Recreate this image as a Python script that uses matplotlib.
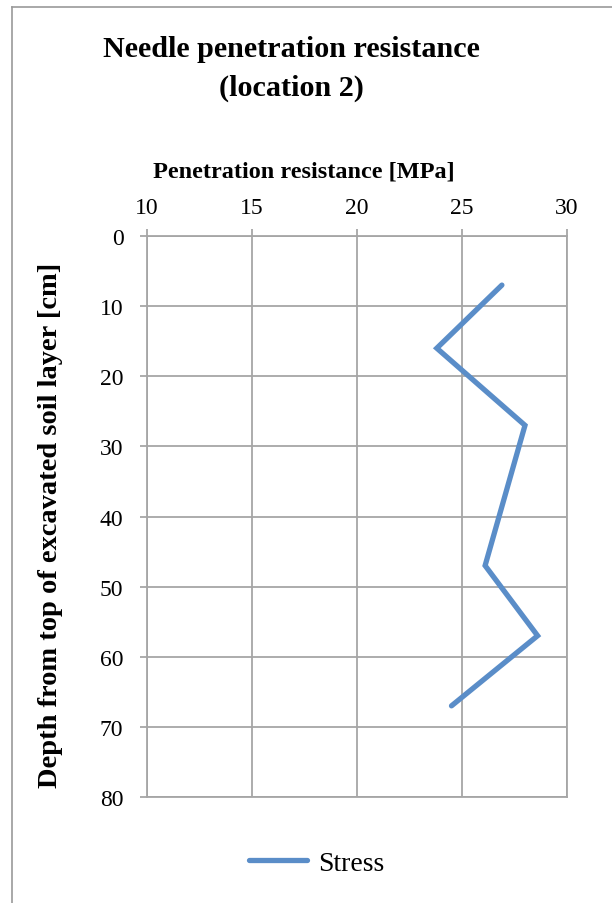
import numpy as np
import matplotlib
matplotlib.use("Agg")
from matplotlib import pyplot as plt
from matplotlib.lines import Line2D

# data
resistance = [26.9, 23.8, 28.0, 26.1, 28.6, 24.5]   # MPa
depth = [7, 16, 27, 47, 57, 67]                     # cm
x_ticks = [10, 15, 20, 25, 30]
y_ticks = [0, 10, 20, 30, 40, 50, 60, 70, 80]

plt.rcParams['font.family'] = ['Liberation Serif', 'DejaVu Serif']

W, H = 612, 904
fig = plt.figure(figsize=(6.12, 9.04), dpi=100)
ax = fig.add_axes([147/W, 1-798/H, 420/W, 561/H])

grid_col = '#a6a6a6'
ax.plot(resistance, depth, color='#5A8DC8', lw=3.8, solid_capstyle='round',
        solid_joinstyle='miter', label='Stress', zorder=3)

ax.set_xlim(10, 30)
ax.set_ylim(80, 0)
ax.set_xticks(x_ticks)
ax.set_yticks(y_ticks)
ax.xaxis.tick_top()
ax.grid(True, color=grid_col, lw=1.3)
for s in ax.spines.values():
    s.set_color(grid_col)
    s.set_linewidth(1.3)
ax.tick_params(axis='both', direction='out', length=5, width=1.3, color=grid_col,
               labelsize=17)
ax.tick_params(axis='x', pad=8)
ax.tick_params(axis='y', pad=12)

# axis titles placed like the Excel chart
fig.text(304/W, 1-172/H, 'Penetration resistance [MPa]', ha='center', va='center',
         fontsize=17.5, fontweight='bold')
fig.text(51/W, 1-525/H, 'Depth from top of excavated soil layer [cm]', ha='center',
         va='center', rotation=90, fontsize=20.5, fontweight='bold')

fig.text(291/W, 1-69/H, 'Needle penetration resistance\n(location 2)',
         ha='center', va='center', fontsize=21.7, fontweight='bold', linespacing=1.6)

fig.legend(loc='center', bbox_to_anchor=(317/W, 1-864/H), frameon=False,
           fontsize=20, handlelength=2.1, handletextpad=0.4)

# chart border (left and top)
fig.add_artist(Line2D([12/W, 12/W], [0, 1-8/H], color='#9a9a9a', lw=1.2,
                      transform=fig.transFigure))
fig.add_artist(Line2D([12/W, 1], [1-8/H, 1-8/H], color='#9a9a9a', lw=1.2,
                      transform=fig.transFigure))

fig.savefig('out.png', dpi=100)
